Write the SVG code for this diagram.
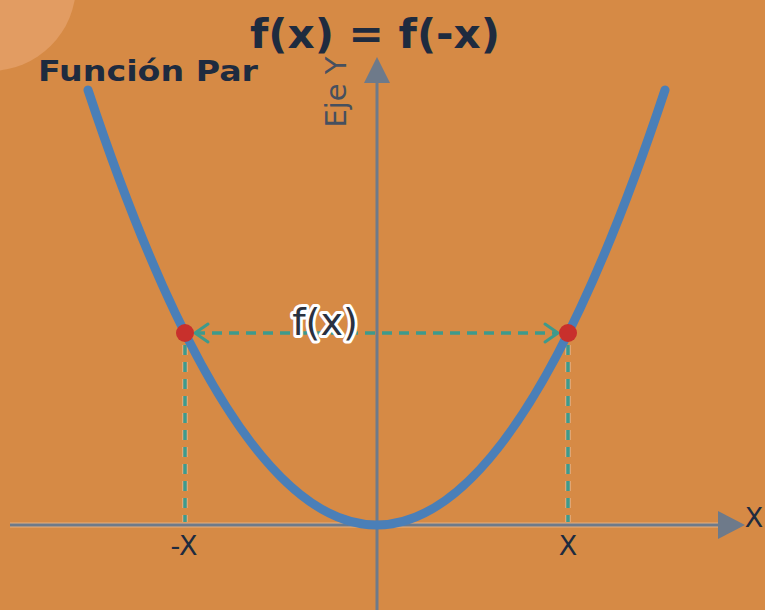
<svg xmlns="http://www.w3.org/2000/svg" width="765" height="610" viewBox="0 0 765 610">
  <style>
    .lbl { font-family: "DejaVu Sans", "Liberation Sans", sans-serif; fill: #1E2B3F; }
    .axis { stroke: #6E7A8A; stroke-width: 3; fill: none; }
    .axhalo { stroke: #E6B080; stroke-width: 5; fill: none; }
    .dash { stroke: #3E9A8C; stroke-width: 3.5; stroke-dasharray: 10 7; fill: none; }
    .dashhalo { stroke: #E4B084; stroke-width: 5.5; stroke-dasharray: 10 7; fill: none; }
    .chev { stroke: #3E9A8C; stroke-width: 3; fill: none; stroke-linecap: round; }
    .dot { fill: #C8302C; }
  </style>
  <rect width="765" height="610" fill="#D68A45"/>
  <circle cx="-10" cy="-15" r="86" fill="#E29C62"/>

  <g id="axes">
    <line class="axhalo" x1="10" y1="525" x2="720" y2="525"/>
    <line class="axis" x1="10" y1="525" x2="720" y2="525"/>
    <polygon points="718,511 745,525 718,539" fill="#6E7A8A"/>
    <line class="axis" x1="377" y1="610" x2="377" y2="82"/>
    <polygon points="364,83 377,57 390,83" fill="#6E7A8A"/>
  </g>

  <g id="connectors">
    <line class="dashhalo" x1="185" y1="345" x2="185" y2="522"/>
    <line class="dash" x1="185" y1="345" x2="185" y2="522"/>
    <line class="dashhalo" x1="568" y1="345" x2="568" y2="522"/>
    <line class="dash" x1="568" y1="345" x2="568" y2="522"/>
    <line class="dash" x1="195" y1="333" x2="558" y2="333"/>
    <polyline class="chev" points="208,324 195,333 208,342"/>
    <polyline class="chev" points="545,324 558,333 545,342"/>
  </g>

  <g id="curve">
    <path d="M88,90 Q377,960 665,90" fill="none" stroke="#4A7FB8" stroke-width="9" stroke-linecap="round"/>
  </g>

  <g id="points">
    <circle class="dot" cx="185" cy="333" r="9"/>
    <circle class="dot" cx="568" cy="333" r="9"/>
  </g>

  <g id="labels">
    <text class="lbl" x="250" y="48" font-size="41" font-weight="bold" textLength="250" lengthAdjust="spacingAndGlyphs">f(x) = f(-x)</text>
    <text class="lbl" x="38" y="81" font-size="28" font-weight="bold" textLength="220" lengthAdjust="spacingAndGlyphs">Función Par</text>
    <text class="lbl" x="0" y="0" font-size="29" style="fill:#46505F" transform="translate(346,92) rotate(-90)" text-anchor="middle">Eje Y</text>
    <text class="lbl" x="325" y="335" font-size="38" text-anchor="middle" stroke="#FFFFFF" stroke-width="6" stroke-linejoin="round" paint-order="stroke" style="fill:#2A3140">f(x)</text>
    <text class="lbl" x="184" y="555" font-size="27" text-anchor="middle">-X</text>
    <text class="lbl" x="568" y="555" font-size="27" text-anchor="middle">X</text>
    <text class="lbl" x="754" y="527" font-size="27" text-anchor="middle">X</text>
  </g>
</svg>
